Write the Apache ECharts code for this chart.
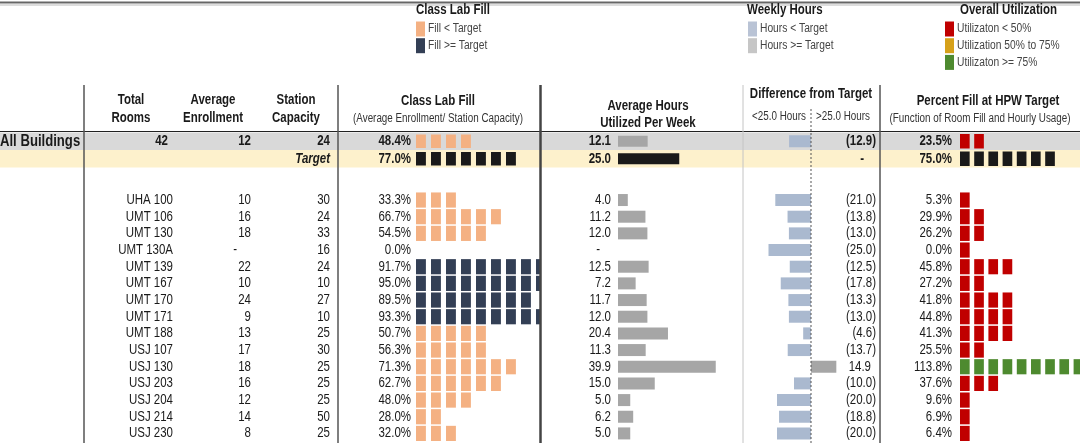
<!DOCTYPE html>
<html>
<head>
<meta charset="utf-8">
<script src="https://cdn.jsdelivr.net/npm/echarts@6/dist/echarts.min.js"></script>
<style>
  html, body { margin: 0; padding: 0; background: #ffffff; }
  #chart { width: 1080px; height: 443px; }
</style>
</head>
<body>
<div id="chart"></div>
<script>
// ---- Room-level data ----
const rooms = ['UHA 100', 'UMT 106', 'UMT 130', 'UMT 130A', 'UMT 139', 'UMT 167', 'UMT 170', 'UMT 171',
               'UMT 188', 'USJ 107', 'USJ 130', 'USJ 203', 'USJ 204', 'USJ 214', 'USJ 230'];
const avgEnrollment = [10, 16, 18, null, 22, 10, 24, 9, 13, 17, 18, 16, 12, 14, 8];
const stationCapacity = [30, 24, 33, 16, 24, 10, 27, 10, 25, 30, 25, 25, 25, 50, 25];
const labFill = [33.3, 66.7, 54.5, 0.0, 91.7, 95.0, 89.5, 93.3, 50.7, 56.3, 71.3, 62.7, 48.0, 28.0, 32.0];
const avgHours = [4.0, 11.2, 12.0, null, 12.5, 7.2, 11.7, 12.0, 20.4, 11.3, 39.9, 15.0, 5.0, 6.2, 5.0];
const hoursDiff = [-21.0, -13.8, -13.0, -25.0, -12.5, -17.8, -13.3, -13.0, -4.6, -13.7, 14.9, -10.0, -20.0, -18.8, -20.0];
const hpwFill = [5.3, 29.9, 26.2, 0.0, 45.8, 27.2, 41.8, 44.8, 41.3, 25.5, 113.8, 37.6, 9.6, 6.9, 6.4];

// ---- Summary rows: All Buildings, Target ----
const summaryLabels = ['All Buildings', 'Target'];
const summaryTotalRooms = [42, null];
const summaryEnrollment = [12, null];
const summaryCapacity = [24, null];
const summaryFill = [48.4, 77.0];
const summaryHours = [12.1, 25.0];
const summaryDiff = [-12.9, 0];
const summaryHpw = [23.5, 75.0];

const FILL_TARGET = 77.0;

// ---- Styling ----
const FONT = "'Liberation Sans', Arial, sans-serif";
const NARROW = 0.82;            // horizontal squeeze giving a narrow face
const BODY_SIZE = 14;
const TEXT = '#1a1a1a';
const FILL_LOW = '#f4b183';
const FILL_HIGH = '#333f55';
const TARGET_BLACK = '#1a1a1a';
const HOURS_GRAY = '#a6a6a6';
const DIFF_NEG = '#aab9cf';
const DIFF_POS = '#a6a6a6';
const UTIL_LOW = '#c00000';
const UTIL_MID = '#d6a11a';
const UTIL_HIGH = '#4e8a2f';
const BAND_GRAY = '#d9d9d9';
const BAND_YELLOW = '#fdf1cc';

// ---- Layout ----
const W = 1080;
const ROOMS_TOP = 191.7, ROOM_H = 16.67;
const SUM_TOP = 132.5, SUM_H = 17.5;
const COL = {
  nameRight: 173, enrollRight: 251, capRight: 330,
  fillLeft: 416, fillRight: 540, fillPx: 1.5, fillLabelGap: 5,
  hoursLeft: 618, hoursRight: 740, hoursPx: 2.45,
  diffLeft: 745, diffZero: 811, diffRight: 876, diffPx: 1.7,
  hpwLeft: 960, hpwRight: 1080, hpwPx: 1.42, hpwLabelGap: 8
};

const grids = [], xAxes = [], yAxes = [], series = [];

function addGrid(left, width, top, height, rowCount, xMin, xMax) {
  const idx = grids.length;
  grids.push({ left: left, top: top, width: width, height: height, show: false });
  xAxes.push({ type: 'value', gridIndex: idx, min: xMin, max: xMax, show: false });
  yAxes.push({ type: 'category', gridIndex: idx, inverse: true, show: false,
               data: Array.from({ length: rowCount }, (_, i) => i) });
  return idx;
}

function section(top, rowH, n) {
  const h = rowH * n;
  const fw = COL.fillRight - COL.fillLeft, hw = COL.hoursRight - COL.hoursLeft;
  const dw = COL.diffRight - COL.diffLeft, pw = COL.hpwRight - COL.hpwLeft;
  return {
    text: addGrid(0, W, top, h, n, 0, W),
    fill: addGrid(COL.fillLeft, fw, top, h, n, 0, fw / COL.fillPx),
    hours: addGrid(COL.hoursLeft, hw, top, h, n, 0, hw / COL.hoursPx),
    diff: addGrid(COL.diffLeft, dw, top, h, n, -(COL.diffZero - COL.diffLeft) / COL.diffPx, (COL.diffRight - COL.diffZero) / COL.diffPx),
    hpw: addGrid(COL.hpwLeft, pw, top, h, n, 0, pw / COL.hpwPx)
  };
}

function label(x, y, text, extra) {
  return {
    type: 'text', x: x, y: y, scaleX: NARROW,
    style: Object.assign({
      text: text, fontFamily: FONT, fontSize: BODY_SIZE, fill: TEXT,
      align: 'right', textAlign: 'right', verticalAlign: 'middle', textVerticalAlign: 'middle'
    }, extra || {})
  };
}

// Repeated square markers: one block per 10 percentage points
function blockRenderer(values, colorOf, opts) {
  return function (params, api) {
    const i = params.dataIndex, v = values[i];
    const cs = params.coordSys;
    const band = api.size([0, 1])[1];
    const step = api.size([10, 0])[0];
    const bw = step * opts.ratio, bh = band - opts.gap;
    const n = Math.max(opts.min, Math.floor(v / 10 + 1e-9));
    const kids = [];
    for (let k = 0; k < n; k++) {
      const p = api.coord([k * 10, i]);
      const w = Math.min(bw, cs.x + cs.width - p[0]);
      if (w <= 0) break;
      kids.push({ type: 'rect', shape: { x: p[0], y: p[1] - bh / 2, width: w, height: bh },
                  style: { fill: colorOf(i, v) } });
    }
    const p0 = api.coord([0, i]);
    kids.push(label(p0[0] - opts.labelGap, p0[1], v.toFixed(1) + '%', opts.bold ? { fontWeight: 'bold' } : null));
    return { type: 'group', children: kids };
  };
}

function hoursRenderer(values, colorOf, bh, bold) {
  return function (params, api) {
    const i = params.dataIndex, v = values[i];
    const p0 = api.coord([0, i]);
    const kids = [];
    if (v != null) {
      const p1 = api.coord([v, i]);
      kids.push({ type: 'rect', shape: { x: p0[0], y: p0[1] - bh / 2, width: p1[0] - p0[0], height: bh },
                  style: { fill: colorOf(i, v) } });
    }
    const txt = v == null ? '-' : v.toFixed(1);
    kids.push(label(p0[0] - (v == null ? 18 : 7), p0[1], txt, bold ? { fontWeight: 'bold' } : null));
    return { type: 'group', children: kids };
  };
}

function diffRenderer(values, bh, bold) {
  return function (params, api) {
    const i = params.dataIndex, v = values[i];
    const cs = params.coordSys;
    const p0 = api.coord([0, i]);
    const p1 = api.coord([v, i]);
    const kids = [];
    if (v !== 0) {
      kids.push({ type: 'rect',
                  shape: { x: Math.min(p0[0], p1[0]), y: p0[1] - bh / 2, width: Math.abs(p1[0] - p0[0]), height: bh },
                  style: { fill: v < 0 ? DIFF_NEG : DIFF_POS } });
    }
    const right = cs.x + cs.width;
    let txt, x;
    if (v < 0) { txt = '(' + Math.abs(v).toFixed(1) + ')'; x = right; }
    else if (v > 0) { txt = v.toFixed(1); x = right - 5; }
    else { txt = '-'; x = right - 12; }
    kids.push(label(x, p0[1], txt, bold ? { fontWeight: 'bold' } : null));
    return { type: 'group', children: kids };
  };
}

function fillColor(i, v) { return v >= FILL_TARGET ? FILL_HIGH : FILL_LOW; }
function utilColor(i, v) { return v >= 75 ? UTIL_HIGH : (v >= 50 ? UTIL_MID : UTIL_LOW); }

function customSeries(gridIdx, values, renderItem, z) {
  return {
    type: 'custom', coordinateSystem: 'cartesian2d',
    xAxisIndex: gridIdx, yAxisIndex: gridIdx, z: z || 3, silent: true, animation: false,
    data: values.map((v, i) => [v == null ? 0 : v, i]),
    renderItem: renderItem
  };
}

// ---- Summary section ----
const S = section(SUM_TOP, SUM_H, summaryLabels.length);
series.push(customSeries(S.text, summaryLabels, function (params, api) {
  const i = params.dataIndex;
  const y = api.coord([0, i])[1];
  const h = api.size([0, 1])[1];
  const bold = { fontWeight: 'bold' };
  const kids = [{ type: 'rect', shape: { x: 0, y: y - h / 2, width: W, height: h },
                  style: { fill: i === 0 ? BAND_GRAY : BAND_YELLOW } }];
  if (i === 0) {
    kids.push(label(0, y, summaryLabels[0], { align: 'left', textAlign: 'left', fontWeight: 'bold', fontSize: 16 }));
    kids.push(label(168, y, String(summaryTotalRooms[0]), bold));
    kids.push(label(COL.enrollRight, y, String(summaryEnrollment[0]), bold));
    kids.push(label(COL.capRight, y, String(summaryCapacity[0]), bold));
  } else {
    kids.push(label(COL.capRight, y, summaryLabels[1], { fontWeight: 'bold', fontStyle: 'italic' }));
  }
  return { type: 'group', children: kids };
}, 1));
series.push(customSeries(S.fill, summaryFill,
  blockRenderer(summaryFill, (i, v) => i === 1 ? TARGET_BLACK : fillColor(i, v),
                { gap: 4, min: 0, ratio: 0.66, labelGap: COL.fillLabelGap, bold: true })));
series.push(customSeries(S.hours, summaryHours,
  hoursRenderer(summaryHours, (i) => i === 1 ? TARGET_BLACK : HOURS_GRAY, 11, true)));
series.push(customSeries(S.diff, summaryDiff, diffRenderer(summaryDiff, 12, true)));
series.push(customSeries(S.hpw, summaryHpw,
  blockRenderer(summaryHpw, (i, v) => i === 1 ? TARGET_BLACK : utilColor(i, v),
                { gap: 3, min: 1, ratio: 0.68, labelGap: COL.hpwLabelGap, bold: true })));

// ---- Room section ----
const R = section(ROOMS_TOP, ROOM_H, rooms.length);
series.push(customSeries(R.text, rooms, function (params, api) {
  const i = params.dataIndex;
  const y = api.coord([0, i])[1];
  const kids = [label(COL.nameRight, y, rooms[i])];
  const e = avgEnrollment[i];
  kids.push(label(e == null ? COL.enrollRight - 14 : COL.enrollRight, y, e == null ? '-' : String(e)));
  kids.push(label(COL.capRight, y, String(stationCapacity[i])));
  return { type: 'group', children: kids };
}, 1));
series.push(customSeries(R.fill, labFill,
  blockRenderer(labFill, fillColor, { gap: 1.5, min: 0, ratio: 0.66, labelGap: COL.fillLabelGap })));
series.push(customSeries(R.hours, avgHours, hoursRenderer(avgHours, () => HOURS_GRAY, 12)));
series.push(customSeries(R.diff, hoursDiff, diffRenderer(hoursDiff, 12)));
series.push(customSeries(R.hpw, hpwFill,
  blockRenderer(hpwFill, utilColor, { gap: 1.5, min: 1, ratio: 0.68, labelGap: COL.hpwLabelGap })));

// ---- Static headers, legend and rules ----
function gText(x, y, text, o) {
  return {
    type: 'text', x: x, y: y, scaleX: NARROW, silent: true, z: 10,
    style: Object.assign({
      text: text, fontFamily: FONT, fontSize: 14, fontWeight: 'bold', fill: TEXT,
      align: 'center', textAlign: 'center', verticalAlign: 'middle', textVerticalAlign: 'middle'
    }, o || {})
  };
}
function gLine(x1, y1, x2, y2, stroke, width, dash) {
  return { type: 'line', silent: true, z: 9, shape: { x1: x1, y1: y1, x2: x2, y2: y2 },
           style: { stroke: stroke, lineWidth: width, lineDash: dash || null } };
}
function gRect(x, y, w, h, fill) {
  return { type: 'rect', silent: true, z: 10, shape: { x: x, y: y, width: w, height: h }, style: { fill: fill } };
}

const small = { fontWeight: 'normal', fontSize: 12, fill: '#333' };
const left = { align: 'left', textAlign: 'left' };
const right = { align: 'right', textAlign: 'right' };
const graphics = [
  gLine(0, 2.5, W, 2.5, '#666', 2),
  gLine(0, 5, W, 5, '#aaa', 0.8),

  // column headings
  gText(131, 100, 'Total'), gText(131, 118, 'Rooms'),
  gText(213, 100, 'Average'), gText(213, 118, 'Enrollment'),
  gText(296, 100, 'Station'), gText(296, 118, 'Capacity'),
  gText(438, 101, 'Class Lab Fill'),
  gText(438, 119, '(Average Enrollment/ Station Capacity)', small),
  gText(648, 106, 'Average Hours'), gText(648, 123, 'Utilized Per Week'),
  gText(811, 94, 'Difference from Target'),
  gText(806, 117, '<25.0 Hours', Object.assign({}, small, right)),
  gText(816, 117, '>25.0 Hours', Object.assign({}, small, left)),
  gText(988, 101, 'Percent Fill at HPW Target'),
  gText(980, 119, '(Function of Room Fill and Hourly Usage)', small),

  // rules
  gLine(0, 131.5, W, 131.5, '#222', 1),
  gLine(84, 85, 84, 443, '#555', 1.5),
  gLine(338, 85, 338, 443, '#555', 1.5),
  gLine(540.5, 85, 540.5, 443, '#444', 2.5),
  gLine(743, 85, 743, 443, '#c4c4c4', 1),
  gLine(880, 85, 880, 443, '#555', 1.5),
  gLine(COL.diffZero, 109, COL.diffZero, 443, '#555', 1, [2, 2]),
];

// legend blocks
const legendGroups = [
  { title: 'Class Lab Fill', titleX: 416, x: 416, items: [['Fill < Target', FILL_LOW], ['Fill >= Target', FILL_HIGH]] },
  { title: 'Weekly Hours', titleX: 747, x: 748, items: [['Hours < Target', '#b9c3d5'], ['Hours >= Target', '#c6c6c6']] },
  { title: 'Overall Utilization', titleX: 960, x: 945,
    items: [['Utilizaton < 50%', UTIL_LOW], ['Utilization 50% to 75%', UTIL_MID], ['Utilizaton >= 75%', UTIL_HIGH]] }
];
legendGroups.forEach(g => {
  graphics.push(gText(g.titleX, 10, g.title, left));
  g.items.forEach((it, k) => {
    const cy = 29 + k * 16.7;
    graphics.push(gRect(g.x, cy - 7.5, 9, 15, it[1]));
    graphics.push(gText(g.x + 12, cy, it[0], Object.assign({}, small, left, { fontSize: 12.5, fill: '#444' })));
  });
});

const chart = echarts.init(document.getElementById('chart'), null, { renderer: 'canvas' });
chart.setOption({
  animation: false,
  backgroundColor: '#ffffff',
  grid: grids,
  xAxis: xAxes,
  yAxis: yAxes,
  series: series,
  graphic: { elements: graphics }
});
</script>
</body>
</html>
